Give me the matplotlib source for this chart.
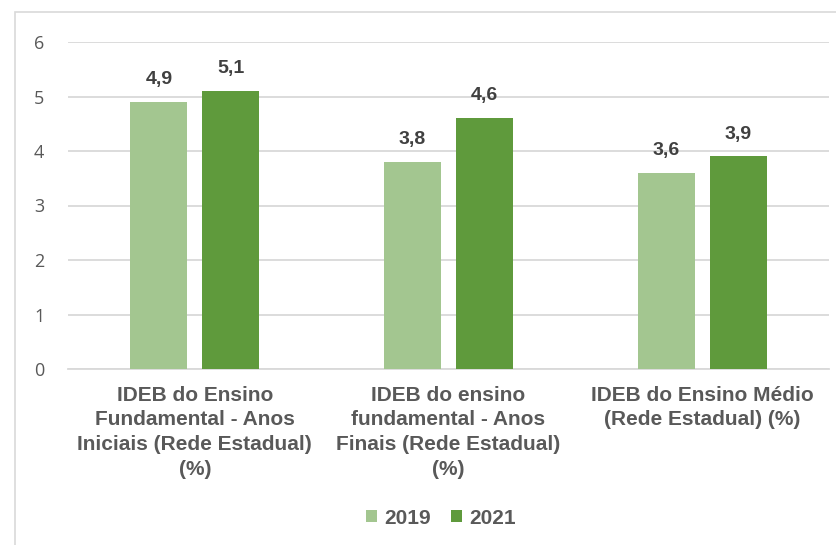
import matplotlib
matplotlib.use("Agg")
import matplotlib.pyplot as plt
import numpy as np
from matplotlib.patches import Rectangle

categories = [
    "IDEB do Ensino\nFundamental - Anos\nIniciais (Rede Estadual)\n(%)",
    "IDEB do ensino\nfundamental - Anos\nFinais (Rede Estadual)\n(%)",
    "IDEB do Ensino Médio\n(Rede Estadual) (%)",
]
series_names = ["2019", "2021"]
values_2019 = [4.9, 3.8, 3.6]
values_2021 = [5.1, 4.6, 3.9]
value_labels_2019 = ["4,9", "3,8", "3,6"]
value_labels_2021 = ["5,1", "4,6", "3,9"]
yticks = [0, 1, 2, 3, 4, 5, 6]

colors = ["#A3C690", "#5F9A3C"]
text_gray = "#595959"
label_dark = "#404040"

fig = plt.figure(figsize=(8.36, 5.45), dpi=100)
ax = fig.add_axes([68/836, 1-369/545, (829-68)/836, (369-42)/545])

# outer chart border
fig.patches.append(Rectangle((15/836, -0.1), 1.2, 1-12/545+0.1, transform=fig.transFigure,
                             fill=False, edgecolor="#D9D9D9", linewidth=1.2, zorder=0))

x = np.arange(len(categories))
w = 0.225
off = 0.142
b1 = ax.bar(x - off, values_2019, w, color=colors[0], label=series_names[0], zorder=3)
b2 = ax.bar(x + off, values_2021, w, color=colors[1], label=series_names[1], zorder=3)

for bars, labs in ((b1, value_labels_2019), (b2, value_labels_2021)):
    for rect, lab in zip(bars, labs):
        ax.annotate(lab, (rect.get_x() + rect.get_width()/2, rect.get_height()),
                    xytext=(0, 10), textcoords="offset points", ha="center", va="bottom",
                    fontsize=14, fontweight="bold", color=label_dark,
                    family=["Liberation Sans Narrow", "Liberation Sans", "DejaVu Sans"])

ax.set_xlim(-0.5, 2.5)
ax.set_ylim(0, 6)
ax.set_yticks(yticks)
ax.set_yticklabels([str(v) for v in yticks], fontsize=13, color=text_gray, family=["Open Sans", "DejaVu Sans"])
ax.set_xticks(x)
ax.set_xticklabels(categories, fontsize=15, fontweight="bold", color=text_gray,
                   family=["Liberation Sans", "DejaVu Sans"], linespacing=1.38, va="top")
ax.tick_params(axis="both", length=0)
ax.tick_params(axis="x", pad=12)
ax.tick_params(axis="y", pad=17)

ax.grid(axis="y", color="#D9D9D9", linewidth=1.3, zorder=0)
ax.set_axisbelow(True)
for s in ["top", "right", "left"]:
    ax.spines[s].set_visible(False)
ax.spines["bottom"].set_color("#D9D9D9")
ax.spines["bottom"].set_linewidth(1.3)

leg = fig.legend(handles=[b1, b2], labels=series_names, loc="center", bbox_to_anchor=(441/836, 1-518/545),
                 ncol=2, frameon=False, handlelength=0.5, handleheight=0.5, handletextpad=0.35,
                 columnspacing=1.0, prop={"family": ["Liberation Sans", "DejaVu Sans"], "weight": "bold", "size": 15})
for t in leg.get_texts():
    t.set_color(text_gray)

fig.savefig("out.png", dpi=100)
